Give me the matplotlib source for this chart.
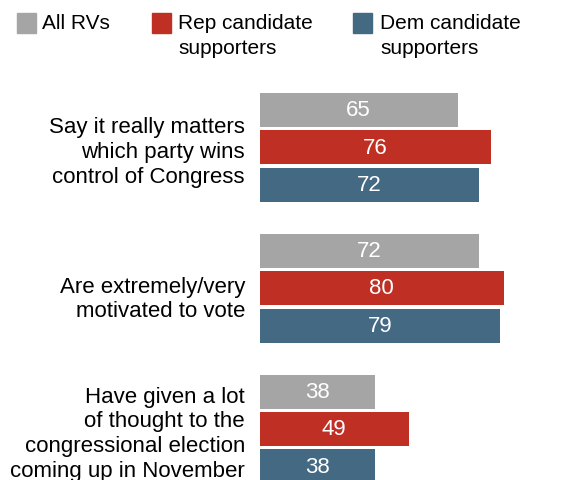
import matplotlib.pyplot as plt
import matplotlib.transforms as mtransforms
from matplotlib.patches import Rectangle

# ==============================
# DATA
# ==============================
categories = [
    "Say it really matters\nwhich party wins\ncontrol of Congress",
    "Are extremely/very\nmotivated to vote",
    "Have given a lot\nof thought to the\ncongressional election\ncoming up in November",
]
series_names = ["All RVs", "Rep candidate\nsupporters", "Dem candidate\nsupporters"]
all_rvs = [65, 72, 38]
rep_supporters = [76, 80, 49]
dem_supporters = [72, 79, 38]

colors = ["#a5a5a5", "#bf2f24", "#436983"]
font = "Liberation Sans"

# ==============================
# LAYOUT (pixels)
# ==============================
W, H = 568, 481
bar_left = 259.5
px_per_pct = 3.05
group_px = 141.0
first_group = 148.0

fig = plt.figure(figsize=(W / 100, H / 100), dpi=100)
fig.patch.set_facecolor("white")

ax = fig.add_axes([bar_left / W, 0, 1 - bar_left / W, 1])
ax.set_xlim(0, (W - bar_left) / px_per_pct)
ax.set_ylim((H - first_group) / group_px, -first_group / group_px)

bar_h = 34 / group_px
step = 37.5 / group_px
values = [all_rvs, rep_supporters, dem_supporters]
for j, (vals, col) in enumerate(zip(values, colors)):
    ys = [i + (j - 1) * step for i in range(len(categories))]
    bars = ax.barh(ys, vals, height=bar_h, color=col, edgecolor="none")
    for b, v in zip(bars, vals):
        ax.text(v / 2, b.get_y() + b.get_height() / 2, str(v),
                ha="center", va="center", color="white",
                fontsize=16, family=font)

ax.set_yticks(range(len(categories)))
ax.set_yticklabels(categories, family=font, fontsize=16, linespacing=1.24)
ax.tick_params(axis="y", length=0, pad=10.5)
ax.set_xticks([])
for s in ax.spines.values():
    s.set_visible(False)

# the two-line label sits a little lower than its bars
lbl = ax.get_yticklabels()[1]
lbl.set_transform(lbl.get_transform() +
                  mtransforms.ScaledTranslation(0, -6 / 100, fig.dpi_scale_trans))

# ==============================
# LEGEND (drawn by hand)
# ==============================
legend_sq_x = [17, 152, 353]
legend_txt_x = [42, 178, 380]
for name, col, sx, tx in zip(series_names, colors, legend_sq_x, legend_txt_x):
    fig.patches.append(Rectangle((sx / W, 1 - 34 / H), 19 / W, 20 / H,
                                 transform=fig.transFigure, color=col))
    fig.text(tx / W, 1 - 14 / H, name, ha="left", va="top",
             fontsize=15, family=font, linespacing=1.38)

fig.savefig("out.png", dpi=100, facecolor="white")
